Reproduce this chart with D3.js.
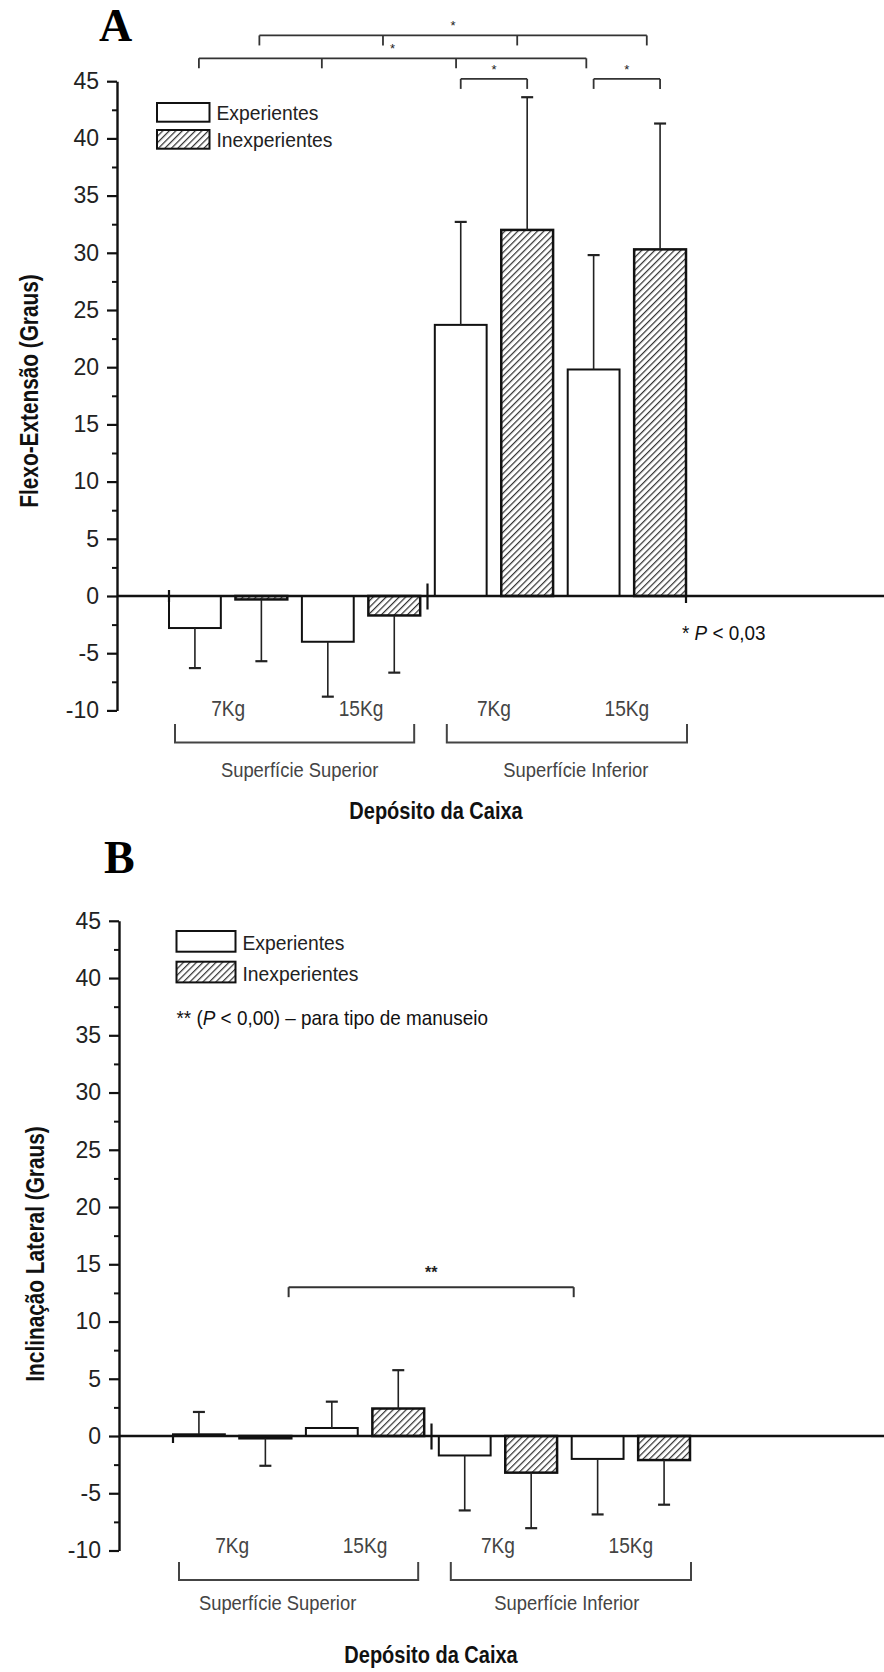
<!DOCTYPE html>
<html>
<head>
<meta charset="utf-8">
<style>
  body { margin: 0; background: #fff; }
  svg text { font-family: "Liberation Sans", Arial, sans-serif; }
</style>
</head>
<body>
<script src="https://cdn.jsdelivr.net/npm/d3@7"></script>
<script>
// ---- data ----
var surfaces = ["Superfície Superior", "Superfície Inferior"];
var loads = ["7Kg", "15Kg"];
var groups = ["Experientes", "Inexperientes"];
var yTicks = [-10, -5, 0, 5, 10, 15, 20, 25, 30, 35, 40, 45];
var yMinor = [-7.5, -2.5, 2.5, 7.5, 12.5, 17.5, 22.5, 27.5, 32.5, 37.5, 42.5];

// bar order: Sup 7Kg (Exp, Inexp), Sup 15Kg, Inf 7Kg, Inf 15Kg
var flexMean = [-2.8, -0.3, -4.0, -1.7, 23.7, 32.0, 19.8, 30.3];
var flexErr  = [3.5, 5.4, 4.8, 5.0, 9.0, 11.6, 10.0, 11.0];
var latMean  = [0.15, -0.2, 0.7, 2.4, -1.7, -3.2, -2.0, -2.1];
var latErr   = [1.95, 2.4, 2.3, 3.35, 4.8, 4.85, 4.85, 3.9];

// significance brackets (bar index positions, height in degrees)
var flexSig = [
  {pos: [0.97, 2.83, 4.85, 6.80], at: 49.0, label: "*"},
  {pos: [0.06, 1.91, 3.93, 5.89], at: 47.0, label: "*"},
  {pos: [4, 5], at: 45.2, label: "*"},
  {pos: [6, 7], at: 45.2, label: "*"}
];
var latSig = [
  {pos: [1.35, 5.64], at: 13.0, label: "**"}
];

var W = 884, H = 1672;
var svg = d3.select("body").append("svg")
  .attr("width", W).attr("height", H)
  .attr("viewBox", "0 0 " + W + " " + H);

var defs = svg.append("defs");
var pat = defs.append("pattern")
  .attr("id", "hatch")
  .attr("patternUnits", "userSpaceOnUse")
  .attr("width", 4.6).attr("height", 4.6)
  .attr("patternTransform", "rotate(45)");
pat.append("rect").attr("width", 4.6).attr("height", 4.6).attr("fill", "#fff");
pat.append("line")
  .attr("x1", 0.6).attr("y1", 0).attr("x2", 0.6).attr("y2", 4.6)
  .attr("stroke", "#333").attr("stroke-width", 1.25);

// condensed text: the scan's lettering is narrower than Liberation Sans
function narrowText(sel, x, y, sx, rot) {
  return sel.append("text")
    .attr("transform", "translate(" + x + "," + y + ")" + (rot ? " rotate(" + rot + ")" : "") + " scale(" + sx + ",1)");
}

function drawPanel(p) {
  var g = svg.append("g");
  var y = d3.scaleLinear().domain([-10, 45]).range([p.yLow, p.yHigh]);
  var x = d3.scaleBand().domain(d3.range(8)).range(p.xRange).paddingInner(0.22).paddingOuter(0);
  var bw = x.bandwidth();
  var xc = d3.scaleLinear().domain([0, 1]).range([x(0) + bw / 2, x(1) + bw / 2]);
  var y0 = y(0);

  // panel letter
  g.append("text").attr("x", p.letterX).attr("y", p.letterY)
    .style("font-family", "'Liberation Serif', 'Times New Roman', serif")
    .attr("font-weight", "bold").attr("font-size", 46).attr("fill", "#000")
    .text(p.letter);

  // y axis
  var ax = g.append("g").attr("transform", "translate(" + p.axisX + ",0)")
    .call(d3.axisLeft(y).tickValues(yTicks).tickSize(10).tickSizeOuter(0).tickPadding(8)
      .tickFormat(function (d) { return String(d); }));
  ax.select(".domain").attr("stroke", "#111").attr("stroke-width", 2.4);
  ax.selectAll(".tick line").attr("stroke", "#111").attr("stroke-width", 2.2);
  ax.selectAll(".tick text").attr("font-size", 23).attr("fill", "#222")
    .style("font-family", "'Liberation Sans', Arial, sans-serif");
  var axm = g.append("g").attr("transform", "translate(" + p.axisX + ",0)")
    .call(d3.axisLeft(y).tickValues(yMinor).tickSize(5).tickFormat(""));
  axm.select(".domain").remove();
  axm.selectAll(".tick line").attr("stroke", "#111").attr("stroke-width", 2);

  narrowText(g, p.titleX, p.titleY, 0.8, -90)
    .attr("text-anchor", "middle").attr("dominant-baseline", "central")
    .attr("font-weight", "bold").attr("font-size", 26).attr("fill", "#111")
    .text(p.yTitle);

  // bars
  var rows = p.mean.map(function (m, i) { return {i: i, m: m, e: p.err[i], hatched: i % 2 === 1}; });
  g.selectAll(".bar").data(rows).enter().append("rect")
    .attr("class", "bar")
    .attr("x", function (d) { return x(d.i); })
    .attr("width", bw)
    .attr("y", function (d) { return Math.min(y(d.m), y0); })
    .attr("height", function (d) { return Math.abs(y(d.m) - y0); })
    .attr("fill", function (d) { return d.hatched ? "url(#hatch)" : "#fff"; })
    .attr("stroke", "#111")
    .attr("stroke-width", function (d) { return d.hatched ? 2.5 : 2; });

  // error bars (one sided, away from zero)
  var ends = function (d) { return d.m >= 0 ? d.m + d.e : d.m - d.e; };
  g.selectAll(".err").data(rows).enter().append("line")
    .attr("x1", function (d) { return x(d.i) + bw / 2; })
    .attr("x2", function (d) { return x(d.i) + bw / 2; })
    .attr("y1", function (d) { return y(d.m); })
    .attr("y2", function (d) { return y(ends(d)); })
    .attr("stroke", "#222").attr("stroke-width", 1.6);
  g.selectAll(".cap").data(rows).enter().append("line")
    .attr("x1", function (d) { return x(d.i) + bw / 2 - 6; })
    .attr("x2", function (d) { return x(d.i) + bw / 2 + 6; })
    .attr("y1", function (d) { return y(ends(d)); })
    .attr("y2", function (d) { return y(ends(d)); })
    .attr("stroke", "#222").attr("stroke-width", 2.2);

  // zero line
  g.append("line").attr("x1", p.axisX).attr("x2", W).attr("y1", y0).attr("y2", y0)
    .attr("stroke", "#111").attr("stroke-width", 2.5);
  // x ticks
  var mid = (x(3) + bw + x(4)) / 2;
  var xt = [[x(0), p.firstTick[0], p.firstTick[1]], [mid, -12.5, 13.5]];
  if (p.endTick) xt.push([x(7) + bw, 0, 7]);
  xt.forEach(function (t) {
    g.append("line").attr("x1", t[0]).attr("x2", t[0])
      .attr("y1", y0 + t[1]).attr("y2", y0 + t[2])
      .attr("stroke", "#111").attr("stroke-width", 2.2);
  });

  // load labels
  d3.range(4).forEach(function (k) {
    narrowText(g, (x(2 * k) + x(2 * k + 1) + bw) / 2, p.loadY, 0.87)
      .attr("text-anchor", "middle").attr("font-size", 22).attr("fill", "#444")
      .text(loads[k % 2]);
  });

  // surface brackets
  var br = [[x(0) + 6, x(3) + bw - 6], [x(4) + 12, x(7) + bw + 1]];
  br.forEach(function (b, k) {
    g.append("path")
      .attr("d", "M" + b[0] + "," + p.brTop + "V" + p.brBot + "H" + b[1] + "V" + p.brTop)
      .attr("fill", "none").attr("stroke", "#444").attr("stroke-width", 2);
    narrowText(g, (b[0] + b[1]) / 2 + p.surfDx[k], p.surfY, 0.92)
      .attr("text-anchor", "middle").attr("font-size", 20).attr("fill", "#444")
      .text(surfaces[k]);
  });

  narrowText(g, p.xTitleX, p.xTitleY, 0.87)
    .attr("text-anchor", "middle").attr("font-weight", "bold")
    .attr("font-size", 23).attr("fill", "#111")
    .text("Depósito da Caixa");

  // legend
  groups.forEach(function (name, k) {
    var ly = p.legY + k * p.legStep;
    g.append("rect").attr("x", p.legX).attr("y", ly)
      .attr("width", p.legW).attr("height", p.legH)
      .attr("fill", k === 1 ? "url(#hatch)" : "#fff")
      .attr("stroke", "#111").attr("stroke-width", 2);
    narrowText(g, p.legX + p.legW + 7, ly + p.legH - 1.5, 0.92)
      .attr("font-size", 21).attr("fill", "#222").text(name);
  });

  // significance brackets
  p.sig.forEach(function (s) {
    var by = y(s.at);
    var xs = s.pos.map(function (v) { return xc(v); });
    g.append("line").attr("x1", xs[0]).attr("x2", xs[xs.length - 1])
      .attr("y1", by).attr("y2", by).attr("stroke", "#333").attr("stroke-width", p.sigW);
    xs.forEach(function (xx) {
      g.append("line").attr("x1", xx).attr("x2", xx).attr("y1", by).attr("y2", by + 10)
        .attr("stroke", "#333").attr("stroke-width", p.sigW);
    });
    g.append("text").attr("x", (xs[0] + xs[xs.length - 1]) / 2).attr("y", by - p.starGap)
      .attr("text-anchor", "middle").attr("font-size", p.starSize)
      .attr("font-weight", p.starBold ? "bold" : "normal").attr("fill", "#222")
      .text(s.label);
  });

  // note
  var note = narrowText(g, p.noteX, p.noteY, 0.9)
    .attr("font-size", 21).attr("fill", "#111");
  p.note.forEach(function (part) {
    note.append("tspan").attr("font-style", part[1] ? "italic" : "normal").text(part[0]);
  });
}

drawPanel({
  letter: "A", letterX: 99, letterY: 41,
  yLow: 710.4, yHigh: 81.2, axisX: 117, xRange: [169, 686],
  titleX: 29, titleY: 391, yTitle: "Flexo-Extensão (Graus)",
  mean: flexMean, err: flexErr,
  firstTick: [-6, 6], endTick: true,
  loadY: 716, brTop: 724, brBot: 742.5, surfY: 777, surfDx: [5, 9],
  xTitleX: 436, xTitleY: 819,
  legX: 157, legY: 103, legW: 52.5, legH: 18.7, legStep: 27,
  sig: flexSig, sigW: 1.8, starGap: 5, starSize: 13, starBold: false,
  noteX: 682, noteY: 640, note: [["* ", false], ["P", true], [" < 0,03", false]]
});

drawPanel({
  letter: "B", letterX: 104, letterY: 873,
  yLow: 1550.5, yHigh: 920.8, axisX: 119, xRange: [173, 690],
  titleX: 35, titleY: 1254, yTitle: "Inclinação Lateral (Graus)",
  mean: latMean, err: latErr,
  firstTick: [0, 7], endTick: false,
  loadY: 1553, brTop: 1562, brBot: 1580, surfY: 1610, surfDx: [-21, -4],
  xTitleX: 431, xTitleY: 1663,
  legX: 176.5, legY: 931, legW: 59, legH: 20.7, legStep: 30.7,
  sig: latSig, sigW: 2, starGap: 9, starSize: 16, starBold: true,
  noteX: 176.5, noteY: 1025, note: [["** (", false], ["P", true], [" < 0,00) – para tipo de manuseio", false]]
});
</script>
</body>
</html>
